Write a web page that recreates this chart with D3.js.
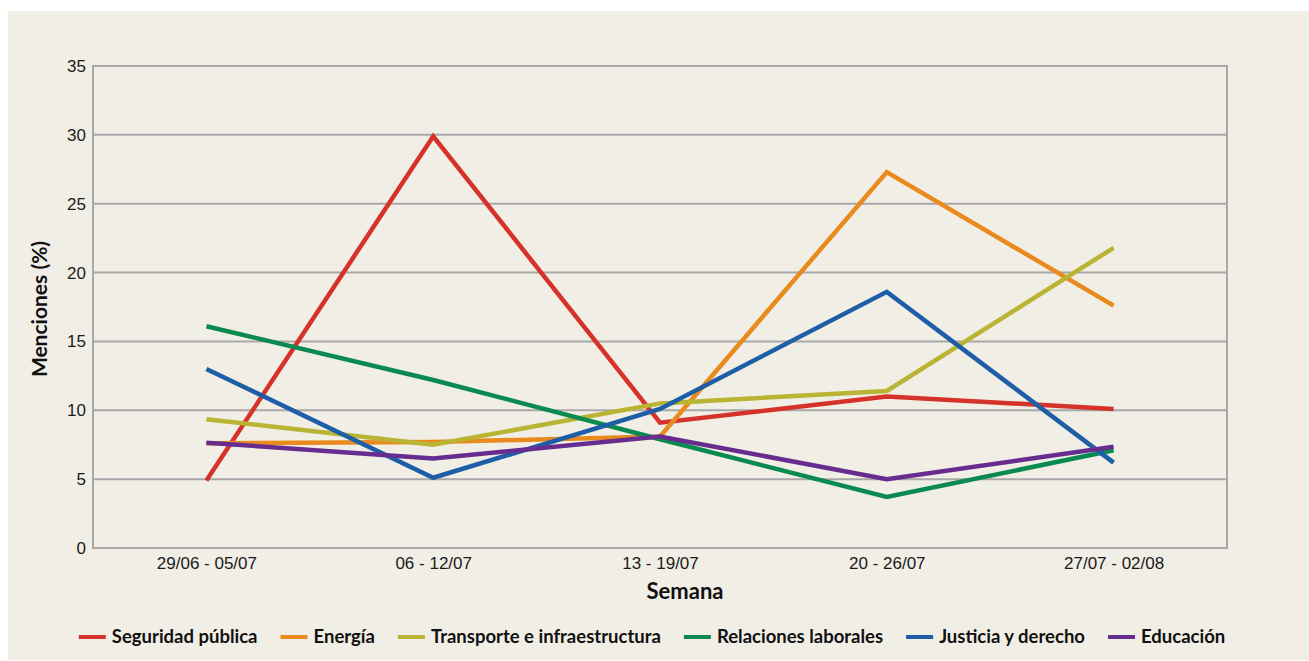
<!DOCTYPE html>
<html>
<head>
<meta charset="utf-8">
<script src="https://cdn.jsdelivr.net/npm/d3@7"></script>
<style>
  body { margin: 0; background: #fff; }
  svg { display: block; }
</style>
</head>
<body>
<svg width="1309" height="661"></svg>
<script>
var weeks = ["29/06 - 05/07", "06 - 12/07", "13 - 19/07", "20 - 26/07", "27/07 - 02/08"];
var yTicks = [0, 5, 10, 15, 20, 25, 30, 35];

var seguridad   = [4.9, 29.9, 9.1, 11.0, 10.1];
var energia     = [7.6, 7.7, 8.1, 27.3, 17.6];
var transporte  = [9.35, 7.5, 10.5, 11.4, 21.8];
var relaciones  = [16.1, 12.2, 7.9, 3.7, 7.1];
var justicia    = [13.0, 5.1, 10.1, 18.6, 6.2];
var educacion   = [7.65, 6.5, 8.1, 5.0, 7.35];

var seriesNames = ["Seguridad pública", "Energía", "Transporte e infraestructura",
                   "Relaciones laborales", "Justicia y derecho", "Educación"];
var seriesValues = [seguridad, energia, transporte, relaciones, justicia, educacion];
var colors = ["#d5322a", "#e98a1e", "#b9b434", "#0b8a50", "#1e5ea6", "#662d8e"];

var svg = d3.select("svg");
var plotLeft = 93, plotRight = 1227, plotTop = 66, plotBottom = 548;
var gridColor = "#a8a8a8";
var tickFont = "'Liberation Sans', Arial, sans-serif";
var boldFont = "Lato, 'Open Sans', sans-serif";

// panel background
svg.append("rect")
    .attr("x", 8).attr("y", 11)
    .attr("width", 1309 - 8).attr("height", 660 - 11)
    .attr("fill", "#f1eee6");

var x = d3.scalePoint().domain(weeks).range([plotLeft, plotRight]).padding(0.5);
var y = d3.scaleLinear().domain([0, 35]).range([plotBottom, plotTop]);

// grid lines
svg.append("g")
    .selectAll("line")
    .data(yTicks)
    .enter().append("line")
    .attr("x1", plotLeft).attr("x2", plotRight)
    .attr("y1", function(d) { return y(d); })
    .attr("y2", function(d) { return y(d); })
    .attr("stroke", gridColor)
    .attr("stroke-width", 2);

// frame sides
svg.append("line").attr("x1", plotLeft).attr("x2", plotLeft).attr("y1", plotTop - 1).attr("y2", plotBottom + 1)
    .attr("stroke", gridColor).attr("stroke-width", 2);
svg.append("line").attr("x1", plotRight).attr("x2", plotRight).attr("y1", plotTop - 1).attr("y2", plotBottom + 1)
    .attr("stroke", gridColor).attr("stroke-width", 2);

// y axis labels
var yAxis = svg.append("g")
    .attr("transform", "translate(" + plotLeft + ",0)")
    .call(d3.axisLeft(y).tickValues(yTicks).tickSize(0).tickPadding(7));
yAxis.select(".domain").remove();
yAxis.selectAll("text")
    .attr("font-family", tickFont).attr("font-size", 17).attr("fill", "#1a1a1a");

// x axis labels
var xAxis = svg.append("g")
    .attr("transform", "translate(0," + plotBottom + ")")
    .call(d3.axisBottom(x).tickSize(0).tickPadding(9));
xAxis.select(".domain").remove();
xAxis.selectAll("text")
    .attr("font-family", tickFont).attr("font-size", 17).attr("fill", "#1a1a1a");

// axis titles
svg.append("text")
    .attr("x", 685).attr("y", 599)
    .attr("text-anchor", "middle")
    .attr("font-family", boldFont).attr("font-weight", "bold").attr("font-size", 22)
    .attr("fill", "#111")
    .text("Semana");

svg.append("text")
    .attr("transform", "translate(47,309) rotate(-90)")
    .attr("text-anchor", "middle")
    .attr("font-family", boldFont).attr("font-weight", "bold").attr("font-size", 21)
    .attr("fill", "#111")
    .text("Menciones (%)");

// lines
var line = d3.line()
    .x(function(d, i) { return x(weeks[i]); })
    .y(function(d) { return y(d); });

svg.append("g")
    .selectAll("path")
    .data(seriesValues)
    .enter().append("path")
    .attr("d", line)
    .attr("fill", "none")
    .attr("stroke", function(d, i) { return colors[i]; })
    .attr("stroke-width", 4.5)
    .attr("stroke-linejoin", "miter");

// legend
var legend = svg.append("g");
var items = legend.selectAll("g")
    .data(seriesNames)
    .enter().append("g");

items.append("line")
    .attr("x1", 0).attr("x2", 27)
    .attr("y1", 0).attr("y2", 0)
    .attr("stroke", function(d, i) { return colors[i]; })
    .attr("stroke-width", 4);

items.append("text")
    .attr("x", 33).attr("y", 6)
    .attr("font-family", boldFont).attr("font-weight", "bold").attr("font-size", 18.5)
    .attr("fill", "#111")
    .text(function(d) { return d; });

var gap = 23;
var pos = 0;
var offsets = [];
items.each(function() {
    offsets.push(pos);
    var w = d3.select(this).select("text").node().getComputedTextLength();
    pos += 33 + w + gap;
});
var total = pos - gap;
var startX = 652 - total / 2;
items.attr("transform", function(d, i) { return "translate(" + (startX + offsets[i]) + ",637)"; });
</script>
</body>
</html>
